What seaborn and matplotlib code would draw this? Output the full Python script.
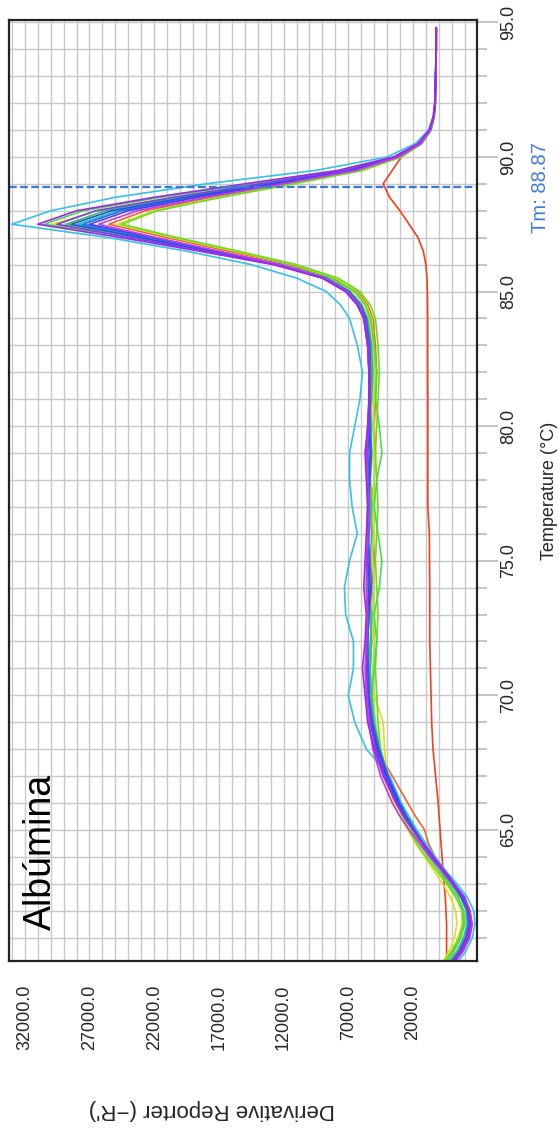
import pandas as pd
import matplotlib.pyplot as plt
import matplotlib.transforms as mtransforms
import seaborn as sns

# temperatura (°C) dos pontos lidos
temps = [60.1, 60.5, 61.0, 61.5, 62.0, 62.5, 63.0, 63.5, 64.0, 64.5, 65.0, 65.5, 66.0,
         67.0, 68.0, 69.0, 70.0, 71.0, 72.0, 73.0, 74.0, 75.0, 76.0, 77.0, 78.0, 79.0,
         80.0, 81.0, 82.0, 83.0, 84.0, 84.5, 85.0, 85.5, 86.0, 86.5, 87.0, 87.5, 88.0,
         88.5, 89.0, 89.5, 90.0, 90.5, 91.0, 91.5, 92.0, 93.0, 94.0, 94.8]

# derivada (-R') de cada poço
ntc = [-600, -600, -600, -600, -550, -500, -400, -330, -250, -170, -100, -20, 50,
       250, 450, 550, 600, 650, 700, 700, 700, 720, 730, 850, 850, 850,
       850, 850, 860, 860, 860, 870, 880, 920, 1000, 1200, 1600, 2300, 3000,
       3800, 4300, 3600, 2900, 1400, 650, 380, 280, 240, 200, 200]
orange = [-600, -1100, -1600, -1900, -1900, -1500, -700, -300, 300, 800, 1100, 1800, 2400,
          3600, 4800, 5200, 5300, 5300, 5200, 5100, 5200, 5000, 5100, 5200, 5000, 4900,
          5000, 4900, 4800, 4900, 5100, 5500, 6300, 8200, 11500, 16300, 21000, 25500, 22700,
          17600, 11800, 6200, 3000, 1400, 650, 380, 280, 240, 200, 200]
yellow = [-300, -800, -1200, -1400, -1300, -900, -300, 400, 1100, 1800, 2400, 3000, 3500,
          4000, 4200, 4300, 5000, 5400, 5200, 5000, 5300, 5200, 5000, 5100, 5300, 5100,
          5000, 5100, 5000, 5100, 5400, 5900, 6700, 8600, 12000, 17000, 23000, 29800, 26500,
          20500, 13500, 7000, 3200, 1400, 650, 380, 280, 240, 200, 200]
yellowgreen = [-500, -1000, -1500, -1800, -1800, -1400, -800, 0, 700, 1400, 2000, 2600, 3100,
               3900, 4500, 4900, 5100, 5100, 5000, 5100, 5000, 5100, 5200, 5100, 5000, 5000,
               5100, 5000, 4900, 5000, 5200, 5600, 6400, 8000, 11200, 15800, 20500, 24800, 22000,
               17000, 11400, 6000, 2900, 1300, 600, 350, 260, 220, 200, 200]
green3 = [-400, -1000, -1600, -1900, -1800, -1300, -600, 200, 1000, 1700, 2300, 2800, 3300,
          4000, 4500, 4700, 4800, 4900, 4800, 4700, 4800, 4900, 4800, 4700, 4800, 4900,
          4800, 4700, 4600, 4700, 4900, 5300, 6100, 7800, 11000, 15500, 20200, 24500, 21800,
          16800, 11200, 5900, 2900, 1300, 600, 350, 260, 220, 200, 200]
green1 = [-600, -1200, -1700, -2000, -1900, -1500, -800, 0, 800, 1500, 2100, 2700, 3200,
          4000, 4600, 5000, 5200, 5000, 4800, 5000, 4600, 4400, 4700, 5000, 4800, 4400,
          4600, 4900, 4800, 5000, 5300, 5700, 6500, 8400, 12000, 17500, 23500, 30500, 27500,
          21500, 14500, 7500, 3300, 1500, 700, 400, 300, 250, 200, 200]
green2 = [-900, -1500, -2000, -2200, -2100, -1700, -1000, -200, 600, 1300, 1900, 2500, 3000,
          3900, 4600, 5100, 5300, 5500, 5300, 5200, 5500, 5600, 5400, 5200, 5300, 5500,
          5400, 5200, 5100, 5200, 5500, 6000, 6900, 8700, 12300, 17500, 23000, 28800, 25800,
          20000, 13500, 7000, 3300, 1500, 700, 400, 300, 250, 210, 200]
teal = [-800, -1400, -1900, -2200, -2200, -1800, -1100, -300, 500, 1200, 1800, 2400, 3000,
        3900, 4600, 5000, 5200, 5300, 5200, 5300, 5400, 5300, 5200, 5300, 5400, 5300,
        5200, 5300, 5200, 5300, 5600, 6100, 7000, 8800, 12300, 17300, 22600, 27900, 24800,
        19200, 12800, 6800, 3200, 1400, 650, 380, 280, 240, 200, 200]
cyan = [-1500, -2100, -2600, -2800, -2700, -2200, -1400, -500, 300, 1000, 1700, 2300, 2900,
        3800, 5600, 6500, 7000, 6600, 6600, 7200, 7300, 6900, 6300, 6700, 6900, 6900,
        6500, 6100, 5900, 6300, 6900, 7600, 8700, 11000, 14500, 19500, 25500, 33000, 30000,
        25000, 18000, 9500, 4000, 1800, 800, 450, 320, 250, 220, 200]
blue2 = [-1000, -1600, -2100, -2300, -2200, -1700, -1000, -200, 600, 1300, 1900, 2500, 3000,
         3900, 4600, 5100, 5400, 5400, 5500, 5400, 5200, 5300, 5500, 5500, 5300, 5200,
         5300, 5400, 5300, 5300, 5600, 6000, 6900, 8700, 12200, 17200, 22300, 27500, 24500,
         19000, 12700, 6700, 3200, 1400, 650, 380, 280, 240, 200, 200]
blue1 = [-1100, -1700, -2200, -2400, -2300, -1800, -1100, -300, 500, 1200, 1900, 2500, 3100,
         4000, 4700, 5200, 5500, 5600, 5500, 5400, 5300, 5500, 5500, 5400, 5400, 5300,
         5400, 5300, 5300, 5400, 5700, 6200, 7100, 8900, 12500, 17800, 23000, 28400, 25300,
         19500, 13000, 6900, 3300, 1500, 700, 400, 300, 250, 200, 200]
indigo = [-1200, -1800, -2300, -2500, -2400, -1900, -1200, -400, 400, 1200, 1900, 2600, 3200,
          4100, 4800, 5200, 5400, 5500, 5600, 5500, 5400, 5400, 5500, 5500, 5500, 5500,
          5400, 5400, 5400, 5500, 5800, 6300, 7200, 9000, 12500, 17200, 22000, 27000, 24000,
          18600, 12400, 6600, 3200, 1400, 650, 380, 280, 240, 200, 200]
violet = [-1100, -1700, -2200, -2500, -2400, -2000, -1200, -400, 400, 1200, 2000, 2700, 3300,
          4200, 4900, 5300, 5500, 5600, 5500, 5500, 5600, 5500, 5400, 5400, 5500, 5500,
          5400, 5300, 5300, 5400, 5700, 6200, 7100, 8900, 12600, 18000, 23800, 29500, 26500,
          20500, 13800, 7200, 3400, 1500, 700, 400, 300, 250, 210, 200]
magenta = [-1300, -1900, -2400, -2600, -2400, -1900, -1100, -200, 700, 1500, 2300, 3000, 3600,
           4500, 5100, 5400, 5600, 5700, 5600, 5500, 5600, 5600, 5500, 5400, 5500, 5600,
           5500, 5400, 5400, 5500, 5800, 6200, 7100, 8800, 12200, 17000, 21800, 26300, 23300,
           18000, 12000, 6400, 3100, 1400, 650, 380, 280, 240, 200, 200]
purple = [-1000, -1600, -2100, -2400, -2300, -1900, -1100, -300, 500, 1300, 2000, 2700, 3300,
          4300, 5000, 5500, 5700, 5900, 5700, 5600, 5800, 5700, 5600, 5500, 5600, 5700,
          5500, 5400, 5400, 5500, 5800, 6300, 7200, 9000, 12800, 18500, 24500, 31000, 28000,
          22000, 15000, 7800, 3500, 1600, 750, 420, 300, 250, 220, 200]

wells = {'NTC': ntc, 'orange': orange, 'yellow': yellow, 'yellowgreen': yellowgreen,
         'green3': green3, 'green1': green1, 'green2': green2, 'teal': teal, 'cyan': cyan,
         'blue2': blue2, 'blue1': blue1, 'indigo': indigo, 'violet': violet,
         'magenta': magenta, 'purple': purple}
cores = {'NTC': '#f0401e', 'orange': '#f06428', 'yellow': '#e6d81e', 'yellowgreen': '#c4dc28',
         'green3': '#66e01a', 'green1': '#4cd94c', 'green2': '#2ec85a', 'teal': '#1fc4a8',
         'cyan': '#33c3e8', 'blue2': '#1f6fff', 'blue1': '#2e4be6', 'indigo': '#5a3de0',
         'violet': '#7b3cf5', 'magenta': '#c23be8', 'purple': '#9c27e8'}

tm = 88.87
x_major = [32000, 27000, 22000, 17000, 12000, 7000, 2000]
x_minor = list(range(-2000, 34000, 1000))
y_major = [65, 70, 75, 80, 85, 90, 95]
y_minor = list(range(61, 96))

linhas = []
for nome, vals in wells.items():
    for t, v in zip(temps, vals):
        linhas.append({'well': nome, 'temp': t, 'deriv': v})
df = pd.DataFrame(linhas)

sns.set_style('white')
plt.rcParams['font.family'] = ['Liberation Sans', 'DejaVu Sans']

fig = plt.figure(figsize=(5.59, 11.32), dpi=100)
ax = fig.add_axes([0.0166, 0.1511, 0.8367, 0.8313])

sns.lineplot(data=df, x='deriv', y='temp', hue='well', hue_order=list(wells.keys()),
             palette=cores, orient='y', estimator=None, sort=True, legend=False,
             lw=1.2, ax=ax)

ax.set_xlim(33200, -2950)
ax.set_ylim(60.13, 95.09)

ax.set_xticks(x_major)
ax.set_xticks(x_minor, minor=True)
ax.set_xticklabels([f'{v:.1f}' for v in x_major])
ax.set_yticks(y_major)
ax.set_yticks(y_minor, minor=True)
ax.set_yticklabels([f'{v:.1f}' for v in y_major])

ax.grid(which='both', color='#c8c8c8', lw=1.0)
ax.set_axisbelow(True)

ax.yaxis.tick_right()
ax.yaxis.set_label_position('right')
ax.tick_params(which='major', length=15, width=1.1, color='#b4b4b4', pad=2,
               labelsize=13, labelrotation=90)
ax.tick_params(which='minor', length=7, width=1.1, color='#b4b4b4')
for lab in ax.get_yticklabels():
    lab.set_va('center')

for s in ax.spines.values():
    s.set_color('#222222')
    s.set_linewidth(1.6)

# linha do Tm
ax.axhline(tm, color='#3a78dc', lw=1.6, ls=(0, (3.5, 1.5)))
trans = mtransforms.blended_transform_factory(ax.transAxes, ax.transData)
ax.text(1.135, tm, f'Tm: {tm:.2f}', transform=trans, rotation=90, ha='center',
        va='center', color='#3c7de0', fontsize=14.5, clip_on=False)

ax.text(0.068, 0.116, 'Albúmina', transform=ax.transAxes, rotation=90,
        ha='center', va='center', fontsize=27, color='black')

ax.set_xlabel("Derivative Reporter (\u2212R')", fontsize=16, rotation=180)
ax.xaxis.label.set_va('center')
ax.xaxis.set_label_coords(0.433, -0.158)
ax.set_ylabel('Temperature (°C)', fontsize=13, rotation=90)
ax.yaxis.label.set_va('center')
ax.yaxis.set_label_coords(1.155, 0.5)

fig.savefig('out.png', dpi=100)
